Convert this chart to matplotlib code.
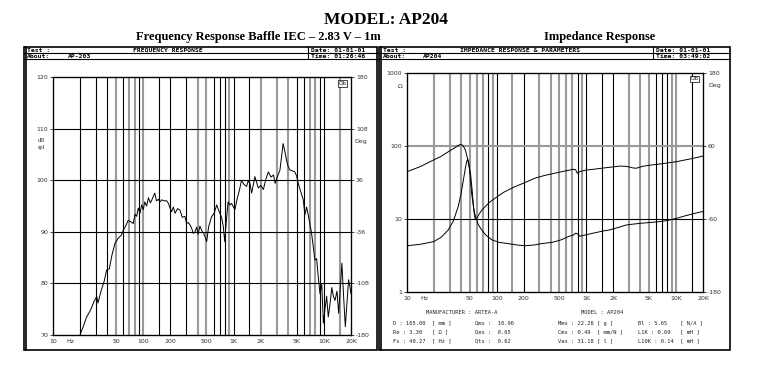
import matplotlib
matplotlib.use('Agg')
import matplotlib.pyplot as plt
from matplotlib.patches import Rectangle
from matplotlib.lines import Line2D
from matplotlib.ticker import NullLocator, FixedLocator, FixedFormatter

W, H = 765, 376

# ---------------- data ----------------
spl_freq = [19.9, 21.5, 23.6, 26, 28.5, 30.5, 31.5, 34, 37, 39.3, 42, 45, 48.6, 53, 57, 60.1,
            64, 68, 72, 77.5, 81, 84.5, 88, 92, 96, 100, 104, 109, 114, 120, 126, 134, 140,
            147, 153, 160, 170, 182, 190, 198, 206, 215, 225, 240, 255, 270, 289, 302, 315,
            328, 345, 357, 372, 390, 405, 424, 445, 470, 504, 530, 570, 610, 650, 690, 737,
            770, 799, 830, 870, 910, 950, 1000, 1035, 1100, 1160, 1224, 1300, 1393, 1450,
            1520, 1585, 1650, 1721, 1800, 1880, 2000, 2140, 2280, 2430, 2600, 2770, 2890,
            3050, 3260, 3400, 3540, 3700, 3860, 4000, 4200, 4500, 4780, 5000, 5200, 5550,
            5920, 6170, 6450, 6710, 7000, 7320, 7650, 7970, 8330, 8700, 9070, 9490, 9880,
            10300, 10750, 11200, 11700, 12250, 12750, 13300, 14000, 14600, 15200, 15850,
            16500, 17300, 18000, 18800, 19400, 20000]
spl_db = [70, 71.5, 73.5, 74.8, 76.5, 77.5, 76.2, 78.5, 80.5, 82.6, 82.8, 85.5, 87.8, 88.8,
          89.3, 90.3, 91.2, 92.2, 92.0, 91.6, 93.4, 93.0, 94.6, 93.6, 95.2, 94.3, 95.8, 95.0,
          96.6, 95.6, 96.4, 97.5, 96.0, 96.3, 95.8, 96.2, 96.0, 96.0, 95.5, 94.6, 93.9, 94.8,
          93.6, 94.5, 94.2, 92.8, 93.0, 91.6, 91.8, 91.4, 90.6, 89.7, 89.9, 90.9, 89.5, 91.1,
          90.2, 89.6, 88.1, 91.0, 92.9, 93.6, 95.2, 94.0, 92.8, 91.0, 88.1, 92.0, 95.8, 95.2,
          95.5, 94.8, 94.3, 96.5, 98.0, 100.0, 99.2, 98.8, 99.8, 99.4, 97.5, 99.0, 100.7,
          99.6, 98.5, 99.0, 98.2, 100.2, 101.6, 100.6, 101.0, 99.4, 100.6, 101.9, 104.5,
          107.1, 105.6, 103.9, 102.8, 102.0, 101.8, 101.6, 100.8, 99.4, 97.8, 96.2, 93.3,
          94.8, 93.3, 91.5, 89.7, 87.0, 84.5, 84.8, 81.0, 78.0, 79.8, 72.3, 75.0, 77.5, 73.5,
          76.0, 79.2, 77.5, 76.7, 78.5, 74.2, 79.0, 83.9, 78.0, 71.6, 76.0, 80.7, 79.5, 78.0]

imp_freq = [10, 14, 19.8, 24, 28.9, 33, 37.3, 40, 42.6, 44.8, 46.4, 47.5, 49, 50.5, 52.5, 55,
            57.3, 62, 67.9, 76, 88, 105, 134, 170, 207, 260, 317, 420, 529, 640, 714, 760,
            790, 850, 950, 1194, 1500, 1832, 2300, 2810, 3300, 4310, 5400, 6610, 8200,
            10100, 12500, 15500, 20000]
imp_ohm = [4.3, 4.5, 4.9, 5.6, 7.1, 9.5, 14.9, 22, 34.6, 50, 62, 66, 58, 40, 22.7, 15, 11.4,
           8.5, 7.1, 6.0, 5.2, 4.8, 4.6, 4.4, 4.3, 4.4, 4.6, 4.8, 5.2, 5.8, 6.0, 6.4, 6.3,
           5.8, 6.0, 6.4, 6.8, 7.1, 7.7, 8.3, 8.5, 8.8, 9.0, 9.2, 9.6, 10.2, 11.0, 11.8, 12.7]

ph_freq = [10, 14, 19.8, 24, 28.9, 34, 38, 40, 42.5, 44.8, 47.5, 51, 53.5, 55.5, 57.3, 59, 62,
           67, 74.2, 84, 95.6, 120, 159, 200, 266, 340, 443, 560, 714, 760, 790, 850, 1000,
           1194, 1700, 2366, 2800, 3300, 3600, 4200, 5000, 6610, 10100, 15500, 20000]
ph_deg = [17.8, 26, 37, 43, 50.6, 57, 61.5, 62.8, 60, 53.4, 38, 15, -15, -45, -59, -61, -55,
          -47, -39.8, -32, -26, -16, -6.9, -1, 7, 11.5, 15.2, 18.5, 21.7, 21, 15.2, 18, 20.5,
          21.7, 24.5, 27, 26.5, 24, 23.4, 26.5, 28.3, 30.4, 34.2, 39.7, 43.5]

grid_freqs = [20, 30, 40, 50, 60, 70, 80, 90, 100, 150, 200, 300, 400, 500, 600, 700, 800,
              900, 1000, 1500, 2000, 3000, 4000, 5000, 6000, 7000, 8000, 9000, 10000, 15000]
left_grid_dark = [1, 1, 1, 0, 1, 0, 0, 1, 0, 1, 1, 1, 0, 0, 1, 1, 1, 0, 1, 1, 0, 0, 0, 1, 1,
                  0, 0, 1, 1, 0]
right_grid_dark = [0, 0, 0, 0, 0, 0, 1, 0, 1, 0, 1, 0, 0, 0, 0, 0, 1, 0, 1, 1, 1, 0, 0, 0, 1,
                   1, 1, 0, 0, 1]

x_ticks = [10, 15.5, 50, 100, 200, 500, 1000, 2000, 5000, 10000, 20000]
x_labels = ['10', 'Hz', '50', '100', '200', '500', '1K', '2K', '5K', '10K', '20K']
spl_ticks = [70, 80, 90, 100, 110, 120]
spl_phase_ticks = [-180, -108, -36, 36, 108, 180]
imp_ticks = [1, 10, 100, 1000]
imp_phase_ticks = [-180, -60, 60, 180]

params_col1 = ['D : 165.00  [ mm ]', 'Re : 3.30   [ \u03a9 ]', 'Fs : 40.27  [ Hz ]']
params_col2 = ['Qms :  10.96', 'Qes :  0.65', 'Qts :  0.62']
params_col3 = ['Mms : 22.26 [ g ]', 'Cms : 0.49  [ mm/N ]', 'Vas : 31.18 [ l ]']
params_col4 = ['Bl : 5.65    [ N/A ]', 'L1K : 0.69   [ mH ]', 'L10K : 0.14  [ mH ]']

# ---------------- figure ----------------
fig = plt.figure(figsize=(W / 100, H / 100), dpi=100)
fig.patch.set_facecolor('white')

def fx(x):
    return x / W

def fy(y):
    return 1 - y / H

def rect(x0, y0, x1, y1, lw=1.0):
    fig.add_artist(Rectangle((fx(x0), fy(y1)), (x1 - x0) / W, (y1 - y0) / H,
                             transform=fig.transFigure, fill=False, lw=lw, ec='black'))

def hline(x0, x1, y, lw=0.8):
    fig.add_artist(Line2D([fx(x0), fx(x1)], [fy(y), fy(y)], transform=fig.transFigure,
                          lw=lw, color='black'))

def vline(x, y0, y1, lw=0.8):
    fig.add_artist(Line2D([fx(x), fx(x)], [fy(y0), fy(y1)], transform=fig.transFigure,
                          lw=lw, color='black'))

def ftext(x, y, s, **kw):
    fig.text(fx(x), fy(y), s, **kw)

serif = ['Liberation Serif', 'DejaVu Serif']
mono = ['DejaVu Sans Mono']

ftext(386, 20, 'MODEL: AP204', ha='center', va='center', fontsize=12.5,
      fontweight='bold', family=serif)
ftext(258, 37, 'Frequency Response Baffle IEC \u2013 2.83 V \u2013 1m', ha='center',
      va='center', fontsize=9, fontweight='bold', family=serif)
ftext(600, 37, 'Impedance Response', ha='center', va='center', fontsize=9,
      fontweight='bold', family=serif)

hdr = dict(fontsize=4.6, family=mono, fontweight='bold', va='center')

# left panel frame
rect(24, 47, 377, 350, lw=1.2)
vline(25.5, 47, 350, lw=1.2)
hline(24, 377, 53)
hline(24, 377, 59)
vline(308, 47, 59)
ftext(27, 50, 'Test :', **hdr)
ftext(168, 50, 'FREQUENCY RESPONSE', ha='center', **hdr)
ftext(27, 56, 'About:', **hdr)
ftext(68, 56, 'AP-203', **hdr)
ftext(311, 50, 'Date: 01-01-01', **hdr)
ftext(311, 56, 'Time: 01:26:46', **hdr)

# right panel frame
rect(379, 47, 730, 350, lw=1.2)
vline(380.5, 47, 350, lw=1.2)
hline(379, 730, 53)
hline(379, 730, 59)
vline(653, 47, 59)
ftext(383, 50, 'Test :', **hdr)
ftext(520, 50, 'IMPEDANCE RESPONSE & PARAMETERS', ha='center', **hdr)
ftext(383, 56, 'About:', **hdr)
ftext(423, 56, 'AP204', **hdr)
ftext(656, 50, 'Date: 01-01-01', **hdr)
ftext(656, 56, 'Time: 03:49:02', **hdr)

tick_kw = dict(labelsize=4.5, labelcolor='#333333', length=2, width=0.5, pad=1.5)

def style_x(ax):
    ax.set_xlim(10, 20000)
    ax.xaxis.set_major_locator(FixedLocator(x_ticks))
    ax.xaxis.set_major_formatter(FixedFormatter(x_labels))
    ax.xaxis.set_minor_locator(NullLocator())
    ax.tick_params(axis='x', labelsize=4.5, labelcolor='#333333', length=0, pad=3)
    for sp in ax.spines.values():
        sp.set_linewidth(0.9)

def vgrid(ax, darks):
    for f, d in zip(grid_freqs, darks):
        if d:
            ax.axvline(f, color='black', lw=0.8, zorder=1)
        else:
            ax.axvline(f, color='#9a9a9a', lw=1.5, zorder=1)

# ---------------- left plot ----------------
axL = fig.add_axes([fx(53), fy(335), 298 / W, 258 / H])
axL.set_xscale('log')
axL.set_ylim(70, 120)
axL.set_yticks(spl_ticks)
axL.set_yticklabels([str(t) for t in spl_ticks])
axL.yaxis.set_minor_locator(NullLocator())
axL.tick_params(axis='y', **tick_kw)
vgrid(axL, left_grid_dark)
for v in spl_ticks[1:-1]:
    axL.axhline(v, color='black', lw=0.8, zorder=1)
axL.plot(spl_freq, spl_db, color='black', lw=0.7, zorder=3)
axL2 = axL.twinx()
axL2.set_ylim(-180, 180)
axL2.set_yticks(spl_phase_ticks)
axL2.set_yticklabels([str(t) for t in spl_phase_ticks])
axL2.tick_params(axis='y', **tick_kw)
style_x(axL)
ftext(38, 141, 'dB', fontsize=4.5, color='#333333', va='center', family=serif)
ftext(38, 148, 'spl', fontsize=4.5, color='#333333', va='center', family=serif)
ftext(354, 141, 'Deg', fontsize=4.5, color='#333333', va='center')
axL.text(0.985, 0.985, 'Clb', transform=axL.transAxes, ha='right', va='top', fontsize=3.5,
         bbox=dict(boxstyle='square,pad=0.15', fc='white', ec='black', lw=0.5), zorder=5)

# ---------------- right plot ----------------
axR = fig.add_axes([fx(407), fy(292), 296 / W, 219 / H])
axR.set_xscale('log')
axR.set_yscale('log')
axR.set_ylim(1, 1000)
axR.set_yticks(imp_ticks)
axR.set_yticklabels([str(t) for t in imp_ticks])
axR.yaxis.set_minor_locator(NullLocator())
axR.tick_params(axis='y', **tick_kw)
vgrid(axR, right_grid_dark)
axR.axhline(100, color='#9a9a9a', lw=1.5, zorder=1)
axR.axhline(10, color='black', lw=0.8, zorder=1)
axR.plot(imp_freq, imp_ohm, color='black', lw=0.7, zorder=3)
axR2 = axR.twinx()
axR2.set_ylim(-180, 180)
axR2.set_yticks(imp_phase_ticks)
axR2.set_yticklabels([str(t) for t in imp_phase_ticks])
axR2.tick_params(axis='y', **tick_kw)
axR2.plot(ph_freq, ph_deg, color='black', lw=0.7, zorder=3)
style_x(axR)
ftext(398, 87, '\u03a9', fontsize=4.5, color='#333333', va='center')
ftext(708, 86, 'Deg', fontsize=4.5, color='#333333', va='center')
axR.text(0.985, 0.985, 'Clb', transform=axR.transAxes, ha='right', va='top', fontsize=3.5,
         bbox=dict(boxstyle='square,pad=0.15', fc='white', ec='black', lw=0.5), zorder=5)

# parameters
pk = dict(fontsize=3.9, family=mono, va='center', color='#222222')
ftext(462, 313, 'MANUFACTURER : ARTEA-A', ha='center', **pk)
ftext(602, 313, 'MODEL : AP204', ha='center', **pk)
row_y = [323, 332, 341]
for col, x in ((params_col1, 393), (params_col2, 475), (params_col3, 558), (params_col4, 638)):
    for s, y in zip(col, row_y):
        ftext(x, y, s, **pk)

fig.savefig('out.png', dpi=100, facecolor='white')
